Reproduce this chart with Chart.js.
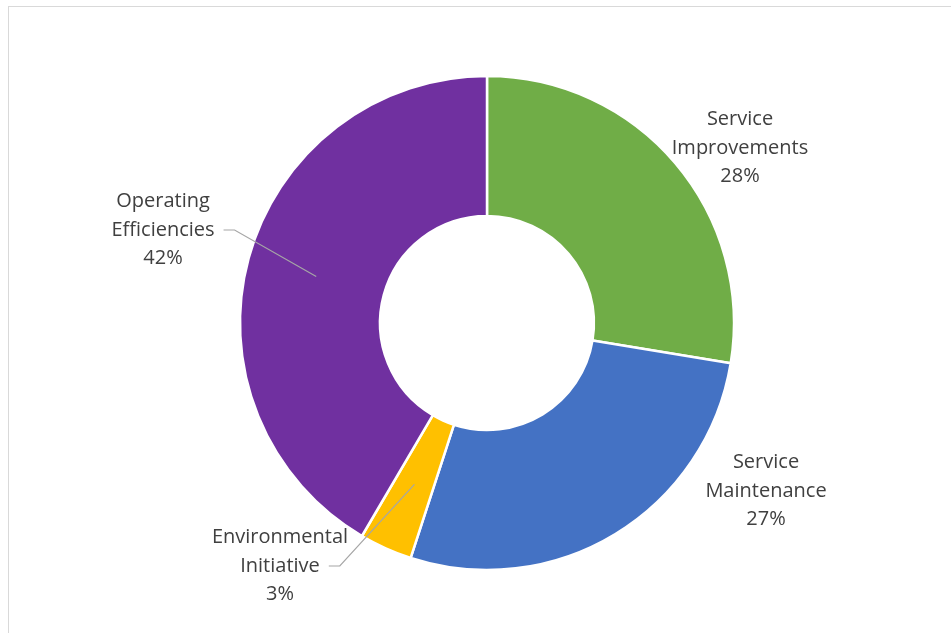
<!DOCTYPE html>
<html>
<head>
<meta charset="utf-8">
<script src="https://cdn.jsdelivr.net/npm/chart.js@4.4.1/dist/chart.umd.min.js"></script>
<style>
  html, body { margin: 0; padding: 0; background: #fff; overflow: hidden; }
  #frame {
    position: absolute; left: 8px; top: 6px; width: 960px; height: 640px;
    border: 1.5px solid #d9d9d9; box-sizing: border-box;
  }
  #wrap { position: absolute; left: 0; top: 0; width: 951px; height: 633px; }
</style>
</head>
<body>
<div id="frame"></div>
<div id="wrap"><canvas id="chart"></canvas></div>
<script>
'use strict';

// Budget split, clockwise from 12 o'clock (percent of total).
const categories = ['Service Improvements', 'Service Maintenance', 'Environmental Initiative', 'Operating Efficiencies'];
const labelLines = [['Service', 'Improvements'], ['Service', 'Maintenance'], ['Environmental', 'Initiative'], ['Operating', 'Efficiencies']];
const shares = [27.6, 27.4, 3.45, 41.55];
const colors = ['#70AD47', '#4472C4', '#FFC000', '#7030A0'];

// Label placement, as offsets from the doughnut centre (px); the two labels
// that sit away from their slice get a grey leader line into the slice.
const labelPlace = [
  { dx: 253, dy: -175, leader: false },
  { dx: 279, dy: 168, leader: false },
  { dx: -207, dy: 243, leader: true },
  { dx: -324, dy: -93, leader: true },
];

const FONT = '20px "Open Sans", sans-serif';
const LINE_H = 28.5;

const outsideLabels = {
  id: 'outsideLabels',
  afterDatasetsDraw(chart) {
    const ctx = chart.ctx;
    const meta = chart.getDatasetMeta(0);
    const total = shares.reduce(function (a, b) { return a + b; }, 0);
    ctx.save();
    ctx.font = FONT;
    ctx.fillStyle = '#404040';
    ctx.textAlign = 'center';
    ctx.textBaseline = 'middle';
    meta.data.forEach(function (arc, i) {
      const p = labelPlace[i];
      const lx = arc.x + p.dx, ly = arc.y + p.dy;
      const lines = labelLines[i].concat([Math.round(shares[i] / total * 100) + '%']);
      lines.forEach(function (t, k) {
        ctx.fillText(t, lx, ly + (k - 1) * LINE_H);
      });
      if (p.leader) {
        const w = ctx.measureText(labelLines[i][1]).width;
        const sx = lx + w / 2 + 9;
        const target = arc.getCenterPoint();
        ctx.beginPath();
        ctx.strokeStyle = '#a6a6a6';
        ctx.lineWidth = 1.2;
        ctx.moveTo(sx, ly);
        ctx.lineTo(sx + 11, ly);
        ctx.lineTo(target.x, target.y);
        ctx.stroke();
      }
    });
    ctx.restore();
  }
};

new Chart(document.getElementById('chart').getContext('2d'), {
  type: 'doughnut',
  data: {
    labels: categories,
    datasets: [{
      data: shares,
      backgroundColor: colors,
      borderColor: '#ffffff',
      borderWidth: 2.5,
      hoverOffset: 0,
    }],
  },
  options: {
    responsive: true,
    maintainAspectRatio: false,
    animation: false,
    radius: 247,
    cutout: '43.3%',
    layout: { padding: { left: 23, top: 13 } },
    plugins: { legend: { display: false }, tooltip: { enabled: false } },
  },
  plugins: [outsideLabels],
});
</script>
</body>
</html>
